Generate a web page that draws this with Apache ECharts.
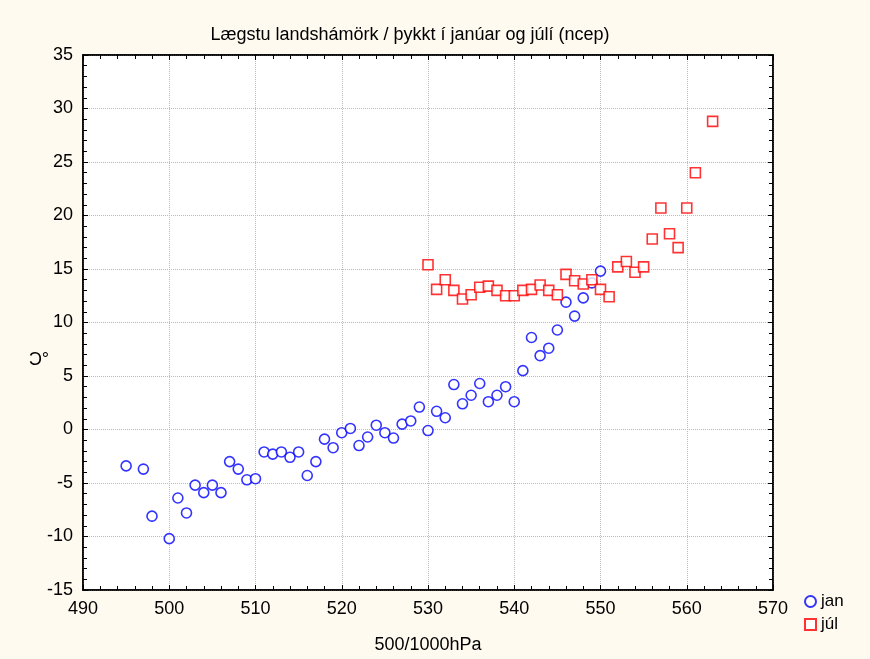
<!DOCTYPE html>
<html>
<head>
<meta charset="utf-8">
<script src="https://cdn.jsdelivr.net/npm/echarts@6/dist/echarts.min.js"></script>
<style>
html,body{margin:0;padding:0;background:#FFFAF0;}
#c{width:870px;height:659px;}
</style>
</head>
<body>
<div id="c"></div>
<script>
// January: thickness (500/1000hPa) and lowest national max temperature
const janX = [495,497,498,500,501,502,503,504,505,506,507,508,509,510,511,512,513,514,515,516,517,518,519,520,521,522,523,524,525,526,527,528,529,530,531,532,533,534,535,536,537,538,539,540,541,542,543,544,545,546,547,548,549,550];
const janY = [-3.4,-3.7,-8.1,-10.2,-6.4,-7.8,-5.2,-5.9,-5.2,-5.9,-3.0,-3.7,-4.7,-4.6,-2.1,-2.3,-2.1,-2.6,-2.1,-4.3,-3.0,-0.9,-1.7,-0.3,0.1,-1.5,-0.7,0.4,-0.3,-0.8,0.5,0.8,2.1,-0.1,1.7,1.1,4.2,2.4,3.2,4.3,2.6,3.2,4.0,2.6,5.5,8.6,6.9,7.6,9.3,11.9,10.6,12.3,13.7,14.8];
// July
const julX = [530,531,532,533,534,535,536,537,538,539,540,541,542,543,544,545,546,547,548,549,550,551,552,553,554,555,556,557,558,559,560,561,563];
const julY = [15.4,13.1,14.0,13.0,12.2,12.6,13.3,13.4,13.0,12.5,12.5,13.0,13.1,13.5,13.0,12.6,14.5,13.9,13.6,14.0,13.1,12.4,15.2,15.7,14.7,15.2,17.8,20.7,18.3,17.0,20.7,24.0,28.8];

const seriesNames = ['jan','júl'];
const titleText = 'Lægstu landshámörk / þykkt í janúar og júlí (ncep)';
const xName = '500/1000hPa';
const yName = '°C';

const zip = (a,b) => a.map((v,i)=>[v,b[i]]);
const FONT = 'Liberation Sans, Arial, sans-serif';

const chart = echarts.init(document.getElementById('c'), null, {renderer:'canvas'});
const gridLine = {show:true, lineStyle:{color:'#bbbbbb', type:'dotted', width:1}};
const baseLabel = {color:'#000', fontFamily:FONT, fontSize:18};
const frameLine = {show:true, onZero:false, lineStyle:{color:'#000', width:1.5}};
const tick = {show:true, inside:true, length:5, lineStyle:{color:'#000'}};
const minor = {show:true, splitNumber:5, length:4, lineStyle:{color:'#000'}};

chart.setOption({
  backgroundColor:'#FFFAF0',
  animation:false,
  title:{text:titleText, left:405, top:21, textAlign:'center',
    textStyle:{fontFamily:FONT, fontSize:18, fontWeight:'normal', color:'#000'}},
  grid:{left:83, right:97, top:55, bottom:69, show:true, backgroundColor:'#ffffff', borderColor:'#000', borderWidth:1.5},
  legend:{orient:'vertical', left:799, top:588, itemGap:6, itemWidth:11, itemHeight:11,
    textStyle:{fontFamily:FONT, fontSize:17, color:'#000'},
    data:[{name:seriesNames[0], icon:'circle'},{name:seriesNames[1], icon:'rect'}]},
  xAxis:[{
    type:'value', min:490, max:570, interval:10, position:'bottom',
    name:xName, nameLocation:'middle', nameGap:46,
    nameTextStyle:{fontFamily:FONT, fontSize:18, color:'#000'},
    axisLine:frameLine, axisTick:tick, minorTick:minor,
    axisLabel:Object.assign({margin:10}, baseLabel),
    splitLine:gridLine
  },{
    type:'value', min:490, max:570, interval:10, position:'top',
    axisLine:frameLine, axisTick:tick, minorTick:minor,
    axisLabel:{show:false}, splitLine:{show:false}
  }],
  yAxis:[{
    type:'value', min:-15, max:35, interval:5, position:'left',
    axisLine:frameLine, axisTick:tick, minorTick:minor,
    axisLabel:Object.assign({margin:10}, baseLabel),
    splitLine:gridLine
  },{
    type:'value', min:-15, max:35, interval:5, position:'right',
    axisLine:frameLine, axisTick:tick, minorTick:minor,
    axisLabel:{show:false}, splitLine:{show:false}
  }],
  graphic:[{
    type:'text', x:39, y:360, scaleX:-1, originX:0, originY:0,
    style:{text:yName, font:'18px '+FONT, fill:'#000', align:'center', verticalAlign:'middle'}
  }],
  series:[{
    name:seriesNames[0], type:'scatter', data:zip(janX,janY),
    symbol:'circle', symbolSize:10,
    itemStyle:{color:'#fff', borderColor:'#0000FF', borderWidth:1.6}
  },{
    name:seriesNames[1], type:'scatter', data:zip(julX,julY),
    symbol:'rect', symbolSize:10,
    itemStyle:{color:'#fff', borderColor:'#FF0000', borderWidth:1.6}
  }]
});
</script>
</body>
</html>
